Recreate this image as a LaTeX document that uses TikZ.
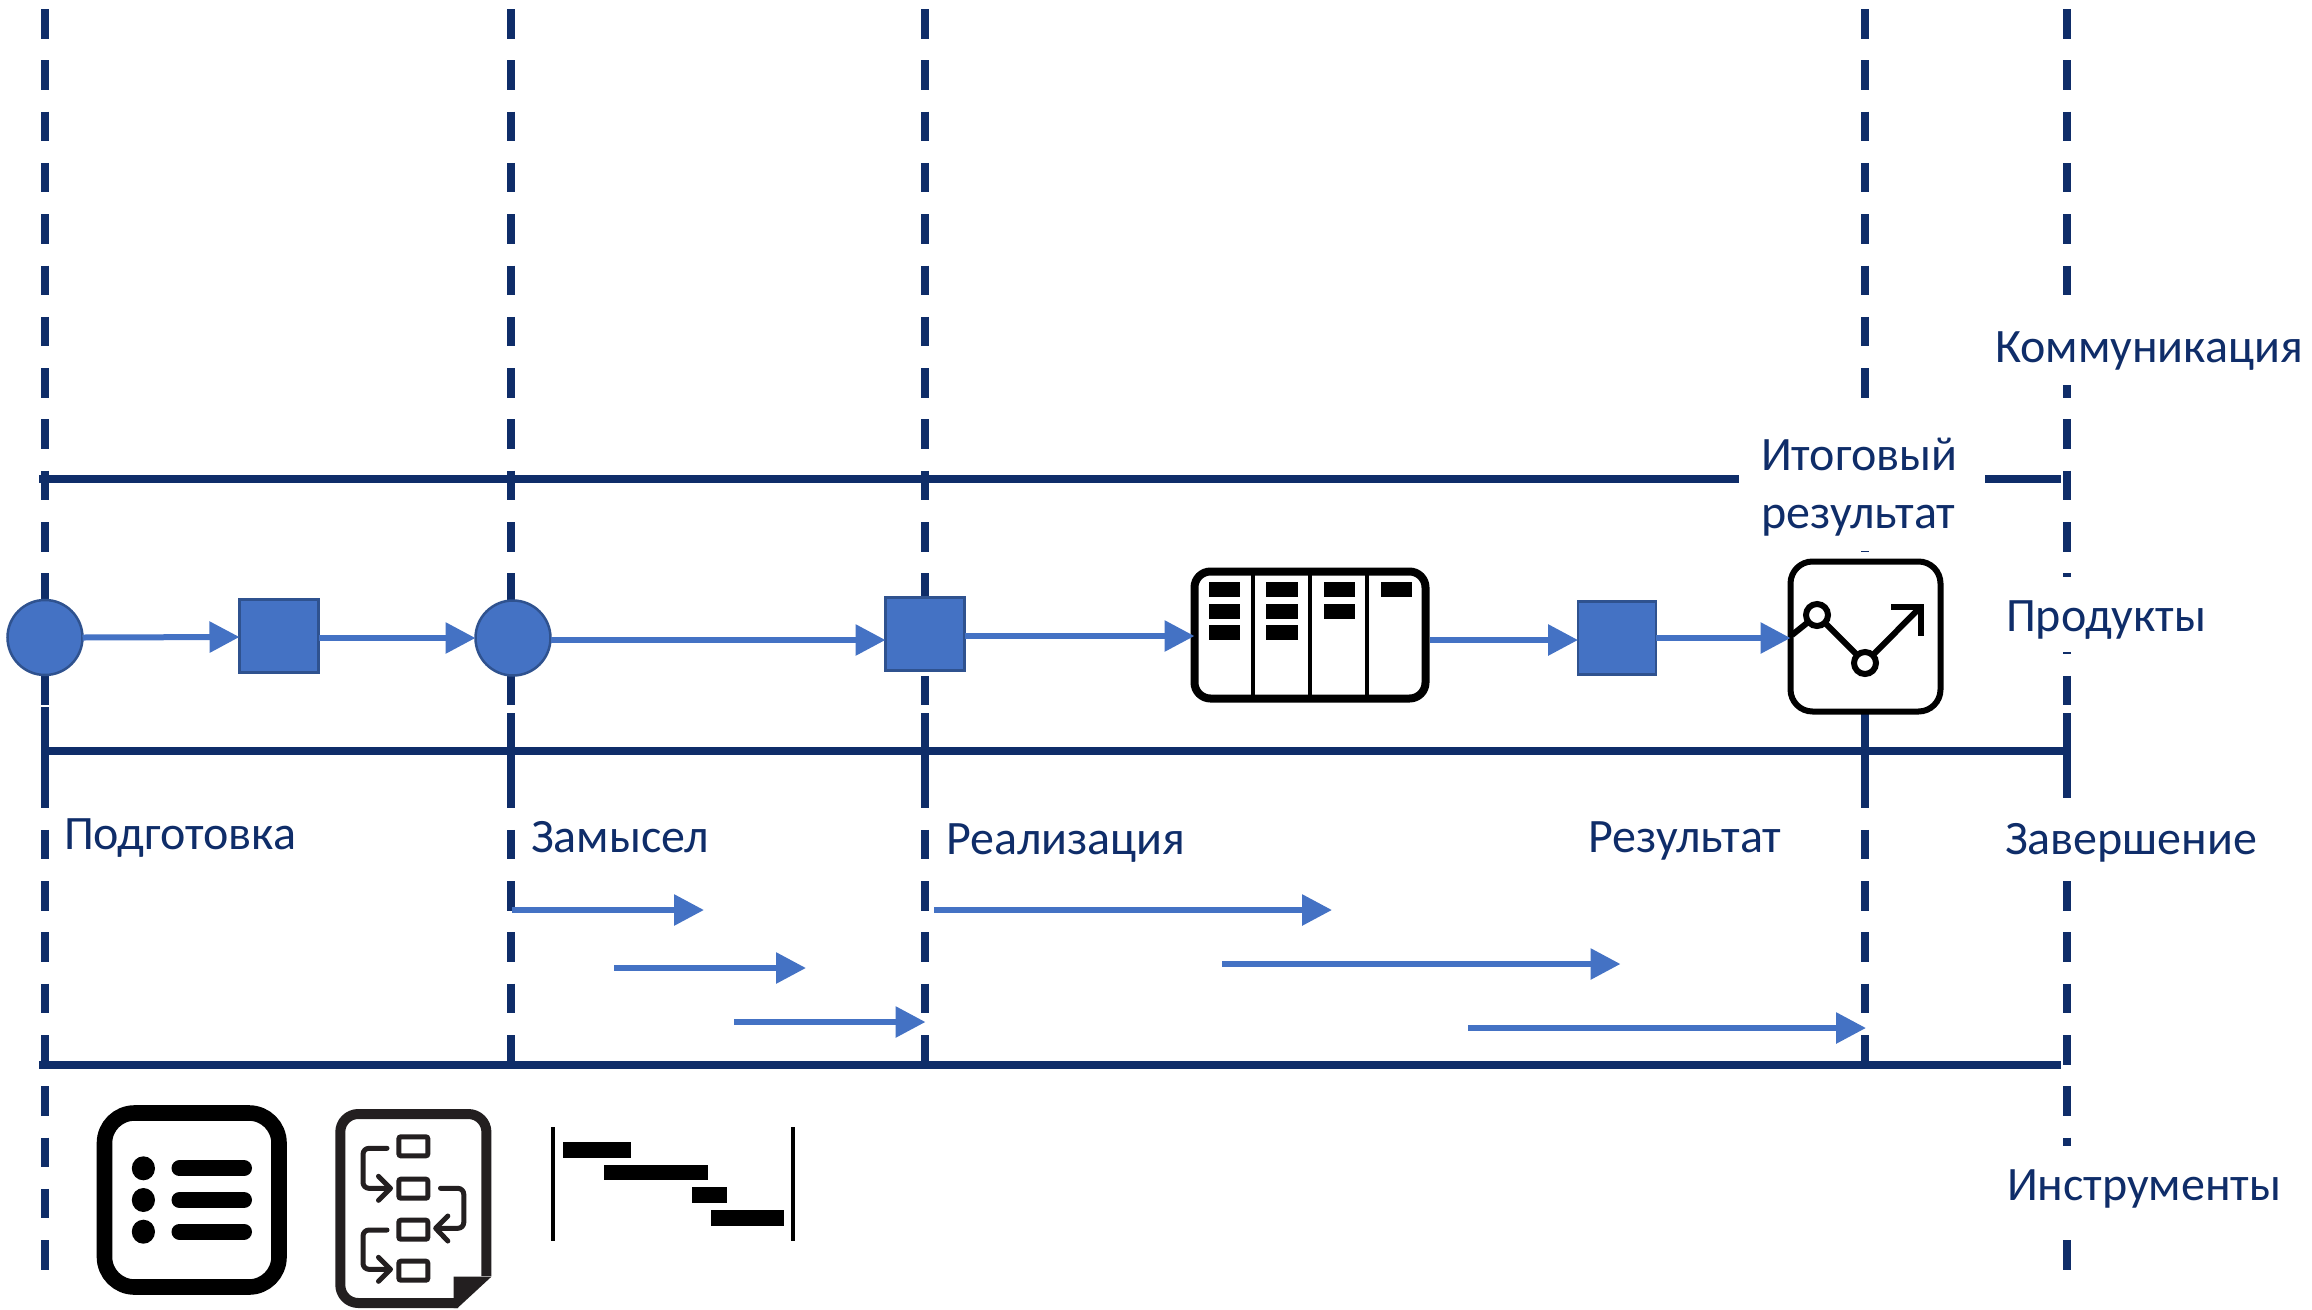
\documentclass[tikz,border=0pt]{standalone}
\usepackage{fontspec}
\setmainfont{Carlito}
\usetikzlibrary{arrows.meta}
\definecolor{navy}{HTML}{0F2D69}
\definecolor{flowblue}{HTML}{4472C4}
\definecolor{edgeblue}{HTML}{2F528F}
\definecolor{docink}{HTML}{231F20}
\tikzset{
  dashcol/.style={navy,line width=7.5pt,dash pattern=on 29.5pt off 21.8pt},
  solidline/.style={navy,line width=8pt},
  flow/.style={flowblue,line width=6pt,-{Triangle[length=30pt,width=30pt]}},
  procnode/.style={fill=flowblue,draw=edgeblue,line width=2.5pt,inner sep=0pt,outer sep=0pt},
  lbl/.style={navy,anchor=base west,inner sep=0pt,outer sep=0pt,font=\fontsize{48}{54}\selectfont},
  mask/.style={fill=white,draw=none},
  iconbox/.style={draw=black,fill=white,rounded corners=22pt,inner sep=0pt,outer sep=0pt},
  card/.style={fill=black},
  docline/.style={docink,line width=5pt,line cap=round,line join=round},
}
\begin{document}
\begin{tikzpicture}[x=1pt,y=-1pt]
\useasboundingbox (0,0) rectangle (2312,1309);
% vertical dashed columns
\foreach \cx/\cend in {45/1270,511/1065,925/1065,1865/1065,2067/1270}{
  \draw[dashcol] (\cx,9) -- (\cx,\cend);
  \draw[solidline] (\cx,713) -- (\cx,787);
}
\draw[solidline] (45,707) -- (45,713);
% horizontal lines
\coordinate (t0) at (39,479); \coordinate (t1) at (1739,479);
\coordinate (t2) at (1985,479); \coordinate (t3) at (2061,479);
\coordinate (m0) at (41,751); \coordinate (m1) at (2071,751);
\coordinate (b0) at (39,1065); \coordinate (b1) at (2061,1065);
\draw[solidline] (t0) -- (t1);
\draw[solidline] (t2) -- (t3);
\draw[solidline] (m0) -- (m1);
\draw[solidline] (b0) -- (b1);
% white areas behind the labels
\fill[mask] (1990,300) rectangle (2312,385);
\fill[mask] (1739,398) rectangle (1985,550.5);
\fill[mask] (1990,577) rectangle (2230,652);
\fill[mask] (1990,798) rectangle (2290,880);
\fill[mask] (1990,1145.5) rectangle (2300,1240);
% labels
\node[lbl] (lkom) at (1995,362) {Коммуникация};
\node[lbl] (lito) at (1761,470) {Итоговый};
\node[lbl] (lrez) at (1761,528) {результат};
\node[lbl] (lpro) at (2006,631) {Продукты};
\node[lbl] (lpod) at (64,849) {Подготовка};
\node[lbl] (lzam) at (531,852) {Замысел};
\node[lbl] (lrea) at (946,854) {Реализация};
\node[lbl] (lres) at (1588,852) {Результат};
\node[lbl] (lzav) at (2005,854) {Завершение};
\node[lbl] (lins) at (2007,1200) {Инструменты};
% process nodes
\node[procnode,circle,minimum size=75pt] (c1) at (45,637.5) {};
\node[procnode,minimum width=79pt,minimum height=73pt] (s1) at (279,636) {};
\node[procnode,circle,minimum size=75pt] (c2) at (513,638) {};
\node[procnode,minimum width=79pt,minimum height=73pt] (s2) at (925,634) {};
\node[procnode,minimum width=78pt,minimum height=73pt] (s3) at (1617,638) {};
% board icon
\node[iconbox,line width=8pt,rounded corners=16pt,minimum width=231pt,minimum height=127pt] (board) at (1310,635) {};
\foreach \dx in {1253,1310,1367}{\draw[black,line width=4pt] (\dx,572) -- (\dx,698);}
\foreach \bx/\by in {1208.5/581.7,1208.5/603.7,1208.5/625.3,1266/581.7,1266/603.7,1266/625.3,1323.5/581.7,1323.5/603.7,1380.5/581.7}{
  \fill[card] (\bx,\by) rectangle ++(31.5,15);
}
% chart icon
\node[iconbox,line width=6pt,minimum width=150pt,minimum height=150pt] (chart) at (1865.5,636.5) {};
\coordinate (ca) at (1817,615); \coordinate (cb) at (1865,663);
\coordinate (cs) at (1792,635); \coordinate (ct) at (1920.5,607);
\draw[black,line width=6pt] (cs) -- (ca) -- (cb) -- (ct);
\draw[black,line width=6pt] (1891,607) -- (ct) -- (1920.5,636);
\draw[black,line width=6pt,fill=white] (ca) circle (11pt);
\draw[black,line width=6pt,fill=white] (cb) circle (11pt);
% flow arrows
\draw[flow] (c1.east) -- ([yshift=-1pt]s1.west);
\draw[flow] ([yshift=-2pt]s1.east) -- (c2.west);
\draw[flow] ([yshift=-2pt]c2.east) -- ([yshift=-6pt]s2.west);
\draw[flow] ([yshift=-2pt]s2.east) -- ([yshift=-1pt]board.west);
\draw[flow] ([yshift=-5pt,xshift=4pt]board.east) -- ([yshift=-2pt]s3.west);
\draw[flow] (s3.east) -- ([yshift=-1.5pt]chart.west);
% schedule arrows
\coordinate (a0) at (512,910); \coordinate (a1) at (704,910);
\coordinate (b2) at (614,968); \coordinate (b3) at (806,968);
\coordinate (c0) at (734,1022); \coordinate (c3) at (925.5,1022);
\coordinate (d0) at (934,910); \coordinate (d1) at (1332,910);
\coordinate (e0) at (1222,964); \coordinate (e1) at (1620.5,964);
\coordinate (f0) at (1468,1028); \coordinate (f1) at (1866,1028);
\draw[flow] (a0) -- (a1);
\draw[flow] (b2) -- (b3);
\draw[flow] (c0) -- (c3);
\draw[flow] (d0) -- (d1);
\draw[flow] (e0) -- (e1);
\draw[flow] (f0) -- (f1);
% list icon
\draw[black,line width=15.6pt,rounded corners=30pt] (104.5,1113) rectangle (279,1287);
\foreach \ly in {1168.3,1200,1231.7}{
  \fill[black] (143.4,\ly) ellipse [x radius=11.6pt,y radius=12pt];
  \draw[black,line width=16pt,line cap=round] (179.5,\ly) -- (244,\ly);
}
% flow document icon
\draw[docink,line width=10pt,line join=round,rounded corners=18pt] (458,1303) -- (340.3,1303) -- (340.3,1114) -- (486.4,1114) -- (486.4,1276);
\fill[docink] (453.6,1276.7) -- (491.4,1276.7) -- (457.5,1308) -- (453.6,1308) -- cycle;
\foreach \ry in {1134.3,1176.7,1217.7,1258.7}{
  \draw[docink,line width=5pt,rounded corners=2pt] (398.9,\ry+2.5) rectangle (427.8,\ry+21.5);
}
\foreach \ya/\yb in {1148.3/1188.3,1230/1269.3}{
  \draw[docline,rounded corners=6pt] (387,\ya) -- (363,\ya) -- (363,\yb) -- (389,\yb);
  \draw[docline] (378.5,\yb-12) -- (390.5,\yb) -- (378.5,\yb+12);
}
\draw[docline,rounded corners=6pt] (440.5,1188.3) -- (463.8,1188.3) -- (463.8,1228.3) -- (437,1228.3);
\draw[docline] (447.8,1216) -- (435.7,1228.3) -- (447.8,1241);
% gantt icon
\draw[black,line width=4pt] (553,1127.3) -- (553,1240.7);
\draw[black,line width=4pt] (793,1127.3) -- (793,1240.7);
\fill[black] (562.7,1142) rectangle (631,1157.7);
\fill[black] (604,1164.7) rectangle (707.6,1180);
\fill[black] (692,1187.3) rectangle (726.5,1203);
\fill[black] (711,1210) rectangle (783.7,1225.7);
\end{tikzpicture}
\end{document}
